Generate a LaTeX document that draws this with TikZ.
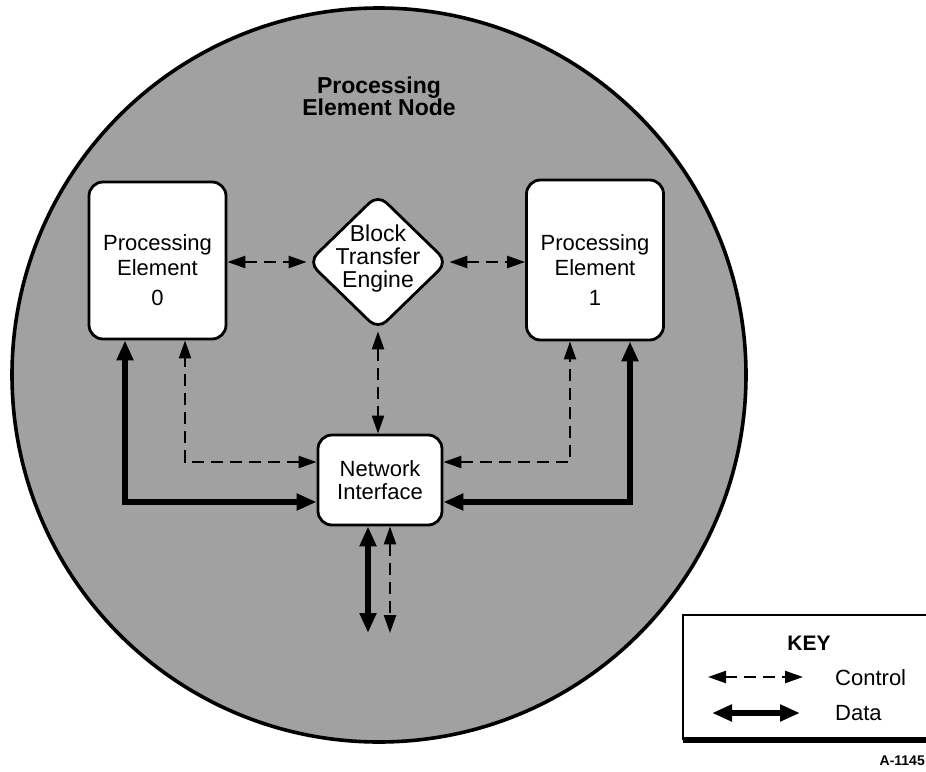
\documentclass[tikz,border=0pt]{standalone}
\usepackage{fontspec}
\setmainfont{Liberation Sans}
\usetikzlibrary{arrows.meta,shapes.geometric}
\begin{document}
\begin{tikzpicture}[x=1pt,y=-1pt,
  txt/.style={font=\fontsize{22}{25}\selectfont, align=center, inner sep=0pt},
  nodebox/.style={draw, line width=2.8pt, rounded corners=14pt, fill=white, inner sep=0pt},
  btebox/.style={diamond, draw, line width=2.8pt, rounded corners=12pt, fill=white,
    inner sep=0pt, minimum width=140pt, minimum height=136pt},
  ctip/.tip={Triangle[length=18pt,width=12pt]},
  dtip/.tip={Triangle[length=20pt,width=16pt]},
  ctrl/.style={line width=2.3pt, dash pattern=on 12pt off 7pt, ctip-ctip},
  data/.style={line width=6pt, dtip-dtip},
  keyline/.style={line width=1.4pt}]
\useasboundingbox (0,0) rectangle (926,771);

% enclosing node circle
\node[circle, draw, line width=3.6pt, fill=black!37, minimum size=734pt, inner sep=0pt]
  (pen) at (379,375) {};
\node[txt, font=\fontsize{23}{22}\selectfont\bfseries] (title) at (379,96)
  {Processing\\Element Node};

% processing elements
\node[nodebox, minimum width=137pt, minimum height=157pt] (pe0) at (157.5,260.5) {};
\node[txt] (pe0t) at (157.5,270) {Processing\\Element\\[5pt]0};
\node[nodebox, minimum width=137pt, minimum height=160pt] (pe1) at (595,260) {};
\node[txt] (pe1t) at (595,270) {Processing\\Element\\[5pt]1};

% block transfer engine
\node[btebox] (bte) at (378,262) {};
\node[txt, font=\fontsize{23}{23}\selectfont] (btet) at (378,259) {Block\\Transfer\\Engine};

% network interface
\node[nodebox, minimum width=124pt, minimum height=90pt, font=\fontsize{22}{23}\selectfont,
  align=center] (ni) at (380,480) {Network\\Interface};

% corner points of the L-shaped links
\coordinate (c0) at (185,462);
\coordinate (d0) at (125,502);
\coordinate (c1) at (570,462);
\coordinate (d1) at (630,502);
\coordinate (b0) at (368,633);
\coordinate (b1) at (390,633);

% control links
\draw[ctrl] (bte.west -| pe0.east) -- (bte.west);
\draw[ctrl] (bte.east) -- (bte.east -| pe1.west);
\draw[ctrl] (bte.south) -- (bte.south |- ni.north);
\draw[ctrl] (ni.west |- c0) -| (pe0.south -| c0);
\draw[ctrl] (ni.east |- c1) -| (pe1.south -| c1);
\draw[ctrl] (b1 |- ni.south) -- (b1);

% data links
\draw[data] (ni.west |- d0) -| (pe0.south -| d0);
\draw[data] (ni.east |- d1) -| (pe1.south -| d1);
\draw[data] (b0 |- ni.south) -- (b0);

% key
\coordinate (kt) at (683,615);
\draw[keyline] (940,615) -- (kt) -- (683,740);
\draw[line width=6pt] (683,740) -- (940,740);
\node[txt, font=\fontsize{21}{22}\selectfont\bfseries, anchor=base] (keyt) at (809,650) {KEY};
\coordinate (k0) at (708,677);
\coordinate (k1) at (803,677);
\coordinate (k2) at (712,713);
\coordinate (k3) at (800,713);
\draw[ctrl] (k0) -- (k1);
\draw[data] (k2) -- (k3);
\node[txt, anchor=base west] (ctl) at (835,685) {Control};
\node[txt, anchor=base west] (dtl) at (835,720) {Data};
\node[txt, font=\fontsize{14}{16}\selectfont\bfseries, anchor=base east] (fig) at (925,765) {A-1145};
\end{tikzpicture}
\end{document}
